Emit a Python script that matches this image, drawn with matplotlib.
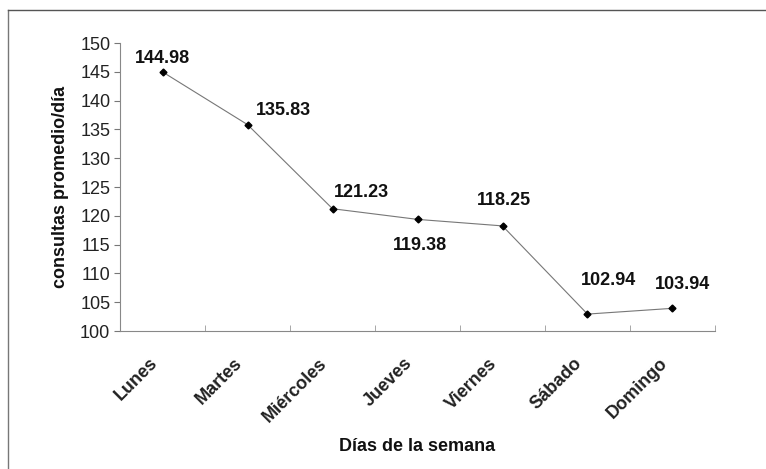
import matplotlib
matplotlib.use("Agg")
import matplotlib.pyplot as plt
from matplotlib.lines import Line2D
import numpy as np

plt.rcParams['font.family'] = ['Liberation Sans', 'DejaVu Sans']

dias = ["Lunes", "Martes", "Miércoles", "Jueves", "Viernes", "Sábado", "Domingo"]
consultas = [144.98, 135.83, 121.23, 119.38, 118.25, 102.94, 103.94]
yticks = [100, 105, 110, 115, 120, 125, 130, 135, 140, 145, 150]

# label offsets in points (dx, dy)
offsets = [(0, 10), (26, 10), (21, 12), (2, -19), (1, 18), (15, 24), (7, 17)]

FS = 13

fig = plt.figure(figsize=(7.66, 4.69), dpi=100)
ax = fig.add_axes([0.1567, 0.2942, 0.9334 - 0.1567, 0.9083 - 0.2942])

x = np.arange(len(dias))
ax.plot(x, consultas, color='#777777', lw=0.8, marker='D', markersize=3.5,
        markerfacecolor='black', markeredgecolor='black', zorder=3)

for xi, yi, (dx, dy) in zip(x, consultas, offsets):
    ax.annotate(f"{yi:.2f}", (xi, yi), xytext=(dx, dy), textcoords='offset points',
                ha='center', va='center', fontsize=FS, fontweight='bold', color='#111111')

ax.set_xlim(-0.5, len(dias) - 0.5)
ax.set_ylim(100, 150)
ax.set_yticks(yticks)
ax.set_yticklabels([str(v) for v in yticks], fontsize=FS, color='#222222')
ax.set_xticks(x)
ax.set_xticklabels([])
for xi, d in zip(x, dias):
    ax.annotate(d, (xi, 0), xycoords=('data', 'axes fraction'), xytext=(-10, -17),
                textcoords='offset points', rotation=45, ha='right', va='top',
                rotation_mode='anchor', fontsize=FS, fontweight='bold', color='#222222',
                annotation_clip=False)
ax.set_xticks(np.arange(-0.5, len(dias)), minor=True)
ax.tick_params(axis='x', which='major', length=0)
ax.tick_params(axis='x', which='minor', length=4, direction='in', color='#999999')
ax.tick_params(axis='y', length=4, color='#777777', pad=3)

for s in ['top', 'right']:
    ax.spines[s].set_visible(False)
for s in ['left', 'bottom']:
    ax.spines[s].set_color('#888888')
    ax.spines[s].set_linewidth(0.8)

ax.set_xlabel("Días de la semana", fontsize=FS, fontweight='bold', labelpad=0, color='#111111')
ax.xaxis.set_label_coords(0.5, -0.372)
ax.set_ylabel("consultas promedio/día", fontsize=FS, fontweight='bold', labelpad=8, color='#111111')

# outer frame (left and top edges visible)
fig.add_artist(Line2D([8/766, 8/766], [0, 1 - 10/469], transform=fig.transFigure, color='#777777', lw=1))
fig.add_artist(Line2D([8/766, 1], [1 - 10/469, 1 - 10/469], transform=fig.transFigure, color='#555555', lw=1))

fig.savefig("out.png", dpi=100)
